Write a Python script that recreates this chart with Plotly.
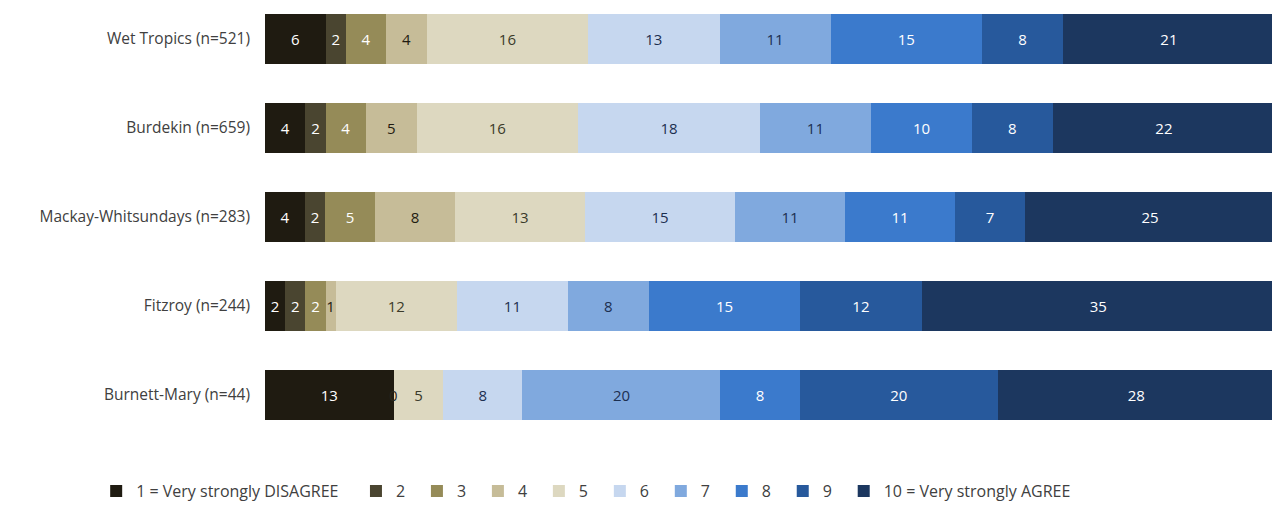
import plotly.graph_objects as go

regions = ["Wet Tropics (n=521)", "Burdekin (n=659)", "Mackay-Whitsundays (n=283)",
           "Fitzroy (n=244)", "Burnett-Mary (n=44)"]
series_names = ["1 = Very strongly DISAGREE", "2", "3", "4", "5", "6", "7", "8", "9",
                "10 = Very strongly AGREE"]
wet_tropics = [6, 2, 4, 4, 16, 13, 11, 15, 8, 21]
burdekin = [4, 2, 4, 5, 16, 18, 11, 10, 8, 22]
mackay_whitsundays = [4, 2, 5, 8, 13, 15, 11, 11, 7, 25]
fitzroy = [2, 2, 2, 1, 12, 11, 8, 15, 12, 35]
burnett_mary = [13, 0, 0, 0, 5, 8, 20, 8, 20, 28]

colors = ["#1f1b11", "#4a4530", "#958b58", "#c6bc98", "#ddd8c0",
          "#c6d7ef", "#80a9de", "#3b7acc", "#27599c", "#1c375f"]
text_colors = ["#ffffff", "#ffffff", "#ffffff", "#1f1b11", "#3a3a2a",
               "#1c2f50", "#1c2f50", "#ffffff", "#ffffff", "#ffffff"]

rows = [wet_tropics, burdekin, mackay_whitsundays, fitzroy, burnett_mary]
FONT = "Open Sans"
NB = "\u00a0"
TH = "\u2009"

fig = go.Figure()
for i, name in enumerate(series_names):
    vals = [r[i] for r in rows]
    texts = [str(v) if v != 0 else "" for v in vals]
    if i == 0:
        legend_name = name + NB * 3
    elif i == len(series_names) - 1:
        legend_name = name
    else:
        legend_name = name + NB + TH
    fig.add_trace(go.Bar(
        y=regions, x=vals, name=legend_name, orientation="h",
        marker=dict(color=colors[i], line=dict(width=0)),
        text=texts, textposition="inside", insidetextanchor="middle",
        textangle=0,
        insidetextfont=dict(color=text_colors[i], size=15, family=FONT),
        hoverinfo="skip",
    ))

# Excel shows the single "0" label of category 2 for Burnett-Mary at its segment
bm_total = sum(burnett_mary)
bm_zero_pos = sum(burnett_mary[:2]) / bm_total * 100
fig.add_annotation(x=bm_zero_pos, y=regions[4], text=str(burnett_mary[1]),
                   showarrow=False, font=dict(size=15, family=FONT, color="#2a271c"),
                   xanchor="center", yanchor="middle")

fig.update_layout(
    barmode="stack", barnorm="percent", bargap=0.44,
    width=1272, height=521,
    margin=dict(l=257, r=5, t=0, b=89),
    paper_bgcolor="white", plot_bgcolor="white",
    font=dict(family=FONT, size=15, color="#404040"),
    uniformtext=dict(mode="show", minsize=15),
    showlegend=True,
    legend=dict(orientation="h", x=0.318, xanchor="center", y=-0.118, yanchor="middle",
                font=dict(size=16, color="#404040", family=FONT), traceorder="normal",
                itemwidth=30, itemclick=False),
    xaxis=dict(visible=False, range=[0, 100], fixedrange=True),
    yaxis=dict(type="category", range=[4.506, -0.348], showgrid=False, showline=False,
               ticks="", ticklabelstandoff=14,
               tickfont=dict(size=15.5, color="#404040", family=FONT)),
)

fig.write_html("out.html")
